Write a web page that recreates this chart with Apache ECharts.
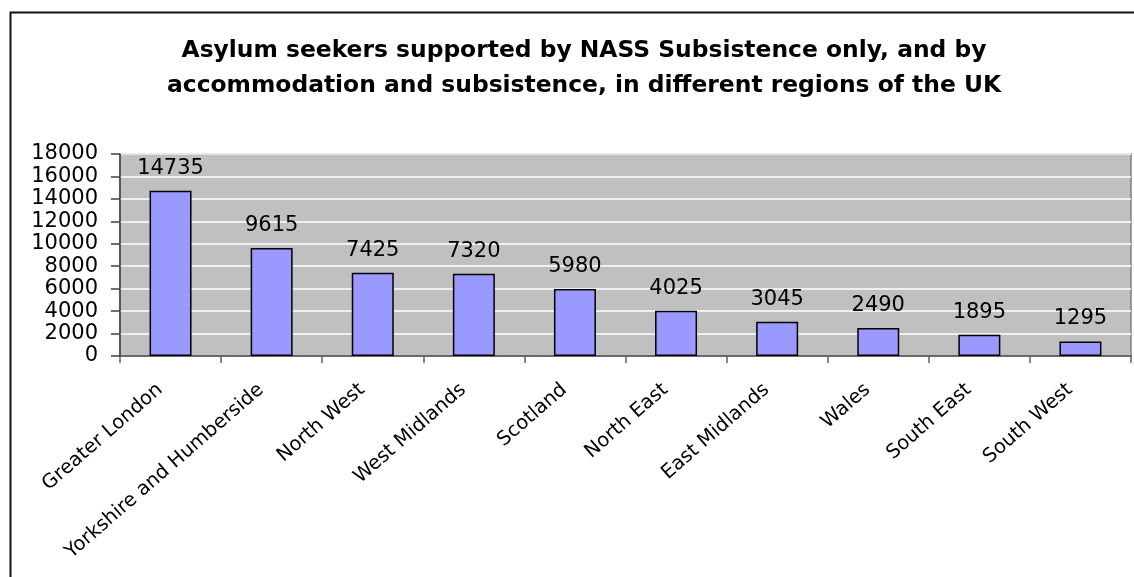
<!DOCTYPE html>
<html>
<head>
<meta charset="utf-8">
<script src="https://cdn.jsdelivr.net/npm/echarts@6/dist/echarts.min.js"></script>
<style>
  html, body { margin: 0; padding: 0; background: #fff; }
  #chart { width: 1134px; height: 577px; }
</style>
</head>
<body>
<div id="chart"></div>
<script>
var titleText = 'Asylum seekers supported by NASS Subsistence only, and by\naccommodation and subsistence, in different regions of the UK';
var regions = ['Greater London', 'Yorkshire and Humberside', 'North West', 'West Midlands', 'Scotland',
               'North East', 'East Midlands', 'Wales', 'South East', 'South West'];
var supported = [14735, 9615, 7425, 7320, 5980, 4025, 3045, 2490, 1895, 1295];
var yMin = 0, yMax = 18000, yStep = 2000;

var chart = echarts.init(document.getElementById('chart'));
var font = '"DejaVu Sans", sans-serif';

option = {
    animation: false,
    backgroundColor: '#fff',
    title: {
        text: titleText,
        left: 579,
        top: 28,
        textAlign: 'center',
        textStyle: {
            fontFamily: font,
            fontWeight: 'bold',
            fontSize: 23.4,
            lineHeight: 35,
            color: '#000'
        }
    },
    graphic: [
        {
            type: 'rect',
            left: 8,
            top: 10,
            shape: { width: 1160, height: 600 },
            style: { fill: 'none', stroke: '#111', lineWidth: 2 },
            silent: true
        }
    ],
    grid: {
        left: 120,
        top: 154,
        right: 3,
        bottom: 221,
        show: true,
        backgroundColor: '#c0c0c0',
        borderColor: '#808080',
        borderWidth: 1.5
    },
    xAxis: {
        type: 'category',
        data: regions,
        axisLine: { lineStyle: { color: '#404040', width: 1.5 } },
        axisTick: { show: true, length: 7, lineStyle: { color: '#606060', width: 1.5 } },
        axisLabel: {
            interval: 0,
            rotate: 41,
            margin: 22,
            padding: [0, 14, 0, 0],
            fontFamily: font,
            fontSize: 19.5,
            color: '#000'
        }
    },
    yAxis: {
        type: 'value',
        min: yMin,
        max: yMax,
        interval: yStep,
        axisLine: { show: true, lineStyle: { color: '#404040', width: 1.5 } },
        axisTick: { show: true, length: 9, lineStyle: { color: '#404040', width: 1.5 } },
        splitLine: { lineStyle: { color: '#ffffff', width: 1.5 } },
        axisLabel: {
            margin: 22,
            formatter: function (v) { return String(v); },
            fontFamily: font,
            fontSize: 21,
            color: '#000'
        }
    },
    series: [
        {
            type: 'bar',
            data: supported,
            barWidth: 42,
            itemStyle: {
                color: '#9999ff',
                borderColor: '#000',
                borderWidth: 1.5
            },
            label: {
                show: true,
                position: 'top',
                distance: 12,
                fontFamily: font,
                fontSize: 21,
                color: '#000'
            }
        }
    ]
};
chart.setOption(option);
</script>
</body>
</html>
